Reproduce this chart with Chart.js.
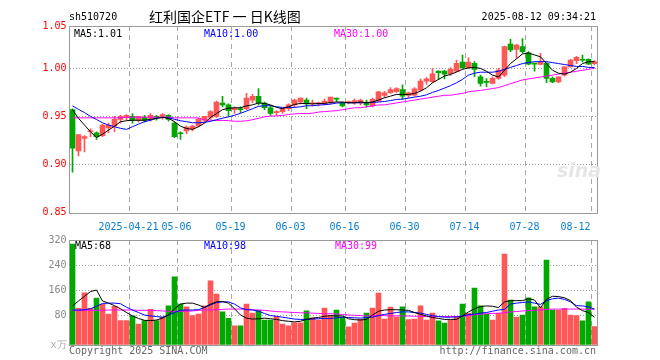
<!DOCTYPE html>
<html><head><meta charset="utf-8">
<script src="https://cdn.jsdelivr.net/npm/chart.js@4.4.1/dist/chart.umd.min.js"></script>
<style>
html,body{margin:0;padding:0;background:#fff;}
#wrap{position:relative;width:660px;height:360px;overflow:hidden;background:#fff;}
canvas{position:absolute;left:0;}
.t{position:absolute;font-family:"DejaVu Sans Mono",monospace;font-size:10px;line-height:12px;white-space:pre;z-index:2;}
</style></head><body>
<div id="wrap">
<canvas id="k" width="660" height="240" style="top:0;width:660px;height:240px"></canvas>
<canvas id="v" width="660" height="130" style="top:230px;width:660px;height:130px"></canvas>
<div class="t" style="left:69px;top:11px;color:#000">sh510720</div>
<div class="t" style="left:149px;top:7px;font-family:'Noto Sans CJK SC';font-size:14px;line-height:18px;color:#000">红利国企ETF 一 日K线图</div>
<div class="t" style="right:64px;top:11px;color:#000">2025-08-12 09:34:21</div>
<div class="t" style="left:74px;top:28px;color:#000">MA5:1.01</div>
<div class="t" style="left:204px;top:28px;color:#0000ff">MA10:1.00</div>
<div class="t" style="left:334px;top:28px;color:#ff00ff">MA30:1.00</div>
<div class="t" style="left:75px;top:240px;color:#000">MA5:68</div>
<div class="t" style="left:204px;top:240px;color:#0000ff">MA10:98</div>
<div class="t" style="left:335px;top:240px;color:#ff00ff">MA30:99</div>
<div class="t" style="left:557px;top:159px;font-family:'DejaVu Sans';font-style:italic;font-weight:bold;font-size:19px;line-height:22px;color:#e6e6e6">sina</div>
<div class="t" style="left:69px;top:345px;color:#666">Copyright 2025 SINA.COM</div>
<div class="t" style="right:64px;top:345px;color:#666">http://finance.sina.com.cn</div>
</div>
<script>
const dates = ['04-07','04-08','04-09','04-10','04-11','04-14','04-15','04-16','04-17','04-18','04-21','04-22','04-23','04-24','04-25','04-28','04-29','04-30',
'05-06','05-07','05-08','05-09','05-12','05-13','05-14','05-15','05-16','05-19','05-20','05-21','05-22','05-23','05-26','05-27','05-28','05-29','05-30',
'06-03','06-04','06-05','06-06','06-09','06-10','06-11','06-12','06-13','06-16','06-17','06-18','06-19','06-20','06-23','06-24','06-25','06-26','06-27','06-30',
'07-01','07-02','07-03','07-04','07-07','07-08','07-09','07-10','07-11','07-14','07-15','07-16','07-17','07-18','07-21','07-22','07-23','07-24','07-25','07-28','07-29','07-30','07-31',
'08-01','08-04','08-05','08-06','08-07','08-08','08-11','08-12'];
const tickDates = ['04-21','05-06','05-19','06-03','06-16','06-30','07-14','07-28','08-12'];
const tickLabels = ['2025-04-21','05-06','05-19','06-03','06-16','06-30','07-14','07-28','08-12'];

const open = [.957,.914,.927,.934,.933,.930,.938,.940,.947,.949,.950,.946,.949,.948,.950,.950,.951,.943,.933,.935,
.937,.940,.946,.949,.950,.964,.962,.957,.958,.958,.967,.971,.964,.959,.954,.955,.958,.962,.965,.967,
.963,.963,.9635,.965,.969,.964,.9645,.964,.964,.965,.961,.966,.9718,.9746,.9757,.978,.9718,.972,.9774,.9868,
.9861,.9972,.9972,.9944,.9972,1.0066,1.0007,1.0052,.9913,.9865,.9844,.9896,.993,1.0254,1.0198,1.0226,1.0163,1.0052,1.0042,1.0052,
.9896,.986,.993,1.0017,1.008,1.0095,1.0094,1.005];
const high = [.958,.931,.930,.937,.934,.942,.943,.950,.951,.952,.953,.950,.951,.953,.951,.953,.952,.944,.934,.940,
.941,.948,.950,.956,.966,.971,.963,.960,.960,.974,.973,.979,.965,.961,.956,.959,.963,.968,.969,.969,
.967,.965,.968,.970,.969,.965,.966,.968,.968,.967,.969,.976,.976,.980,.980,.983,.9753,.980,.989,.9903,
.9997,.9975,.998,1.0007,1.0087,1.0139,1.0111,1.007,.993,.9895,.9913,1.000,1.0233,1.0302,1.025,1.031,1.0174,1.0055,1.0156,1.006,
.9913,.9913,1.0017,1.0094,1.0125,1.0139,1.010,1.008];
const low = [.892,.909,.913,.929,.926,.929,.933,.934,.943,.946,.943,.944,.944,.945,.946,.947,.945,.928,.926,.932,
.935,.939,.944,.947,.949,.960,.950,.953,.954,.957,.964,.962,.957,.951,.951,.953,.956,.960,.963,.958,
.961,.961,.962,.963,.965,.960,.963,.9625,.962,.9597,.960,.965,.9694,.974,.975,.968,.9694,.971,.9763,.9833,
.985,.9885,.989,.9927,.9962,1.000,1.000,.9913,.9816,.981,.9837,.9885,.9913,1.0174,1.0104,1.0157,1.0035,.997,1.0035,.985,
.985,.985,.992,1.001,1.005,1.0066,1.004,1.0035];
const close = [.917,.931,.929,.935,.929,.941,.941,.947,.950,.951,.946,.950,.946,.951,.949,.952,.947,.929,.932,.939,
.940,.947,.950,.955,.965,.962,.956,.959,.957,.969,.971,.964,.959,.953,.955,.958,.962,.967,.969,.963,
.964,.964,.966,.970,.968,.961,.965,.9665,.967,.962,.9677,.9757,.9746,.978,.979,.971,.9746,.9788,.9868,.9892,
.9944,.9955,.994,.999,1.0052,1.0007,1.0066,.999,.9844,.9855,.9896,.9983,1.0226,1.0191,1.0243,1.0174,1.0045,1.0045,1.007,.9896,
.986,.9913,1.0017,1.0087,1.0115,1.0085,1.0045,1.007];

const ma5 = [.957,.948,.941,.934,.928,.9315,.9357,.9398,.9445,.9455,.946,.946,.946,.947,.948,.949,.948,.9445,.9398,.9375,
.9365,.9393,.943,.949,.953,.957,.9585,.959,.959,.961,.962,.964,.9635,.962,.9595,.958,.960,.9625,.9635,.9635,
.963,.9635,.9635,.9645,.965,.965,.9642,.9642,.965,.9642,.965,.967,.9694,.9711,.9729,.9729,.9729,.9739,.9763,.9798,
.985,.9885,.992,.9937,.9962,.999,1.0005,1.001,1.000,.997,.993,.991,.998,1.005,1.010,1.015,1.016,1.014,1.012,1.005,
.998,.995,.994,.996,1.000,1.005,1.007,1.007];
const ma10 = [.961,.9573,.954,.950,.9468,.9434,.941,.9393,.9376,.9365,.9393,.942,.9445,.946,.948,.949,.9486,.947,.9455,.9445,
.9434,.9434,.9438,.9449,.9465,.9482,.9495,.9512,.9532,.9556,.958,.9605,.9611,.9611,.960,.9594,.9594,.9594,.960,.9611,
.9611,.9618,.9622,.9628,.9639,.9642,.9642,.9642,.9642,.9642,.9645,.965,.9655,.9665,.9677,.968,.969,.9701,.971,.9725,
.975,.977,.9795,.982,.985,.9885,.993,.995,.996,.996,.996,.997,.999,1.001,1.003,1.005,1.006,1.007,1.007,1.007,
1.006,1.005,1.004,1.003,1.002,1.002,1.001,1.001];
const ma30 = [.9485,.9485,.9485,.9485,.9485,.9485,.9485,.9485,.9485,.9492,.9492,.9492,.9492,.9492,.9492,.9492,.9492,.9485,.9485,.9485,
.9485,.9485,.9462,.946,.9458,.9458,.9456,.945,.945,.9454,.9466,.948,.9495,.9503,.9505,.951,.952,.9527,.953,.953,
.9533,.9545,.955,.9555,.956,.957,.958,.959,.959,.960,.961,.962,.962,.963,.964,.965,.966,.967,.968,.969,
.970,.971,.972,.972,.973,.974,.9756,.9765,.977,.978,.979,.980,.982,.984,.986,.988,.989,.990,.991,.992,
.993,.994,.995,.996,.997,.998,.999,1.000];

const volume = [307,101,151,101,134,114,83,108,62,62,77,51,62,98,62,73,109,202,115,106,
78,83,109,189,147,90,69,45,45,115,86,95,64,64,75,51,45,55,55,93,
71,64,102,77,96,73,42,54,66,86,102,150,67,105,73,106,65,67,109,64,
86,61,54,64,73,115,85,166,109,83,64,85,275,128,73,80,135,106,106,256,
96,95,101,80,78,61,122,43];
const volMa5 = [109,125,140,155,160,125,118,110,100,88,77,69,63,62,64,70,80,100,115,118,
118,112,104,115,122,123,118,100,80,70,67,68,70,68,66,62,60,58,60,66,
70,72,76,78,77,77,68,65,64,66,80,92,96,97,97,96,95,88,82,77,
72,69,66,66,66,77,90,100,107,109,108,104,122,126,126,126,132,128,103,130,
140,139,135,126,105,94,88,73];
const volMa10 = [96,96,97,100,108,117,118,118,116,105,96,88,80,77,75,73,80,88,95,96,
96,97,104,112,120,122,122,115,103,97,96,92,85,78,76,73,70,67,66,66,
67,68,69,69,71,73,72,71,70,72,73,78,82,85,88,90,90,88,86,82,
78,75,73,73,74,77,81,83,86,88,92,96,98,115,118,120,122,118,114,126,
132,134,130,122,110,109,106,99];
const volMa30 = [94,94,95,95,95,95,96,96,96,96,96,95,95,95,94,93,92,92,92,92,
93,95,96,96,97,98,99,99,99,98,97,96,95,93,91,90,89,88,87,87,
86,85,84,84,83,82,80,79,78,77,78,79,78,77,77,77,77,76,76,75,
75,75,75,75,75,76,78,81,83,84,85,86,87,90,91,93,94,95,96,98,
99,99,99,99,99,99,98,99];

const priceTicks = [0.85, 0.90, 0.95, 1.00, 1.0441];
const priceTickLabels = ['0.85','0.90','0.95','1.00','1.05'];
const volTicks = [-16, 80, 160, 240, 320];
const volTickLabels = ['x万','80','160','240','320'];

const RED = '#ff5757', GREEN = '#00a800';
const upColor = dates.map((d,i) => close[i] >= open[i] ? RED : GREEN);

Chart.defaults.font.family = "'DejaVu Sans Mono', monospace";
Chart.defaults.font.size = 10;

const frame = {
  id: 'frame',
  afterDatasetsDraw(chart) {
    const {ctx, chartArea: a} = chart;
    ctx.save();
    ctx.strokeStyle = '#9a9a9a';
    ctx.lineWidth = 1;
    ctx.setLineDash([]);
    ctx.strokeRect(Math.floor(a.left) + 0.5, Math.floor(a.top) + 0.5, Math.round(a.right - a.left), Math.round(a.bottom - a.top));
    ctx.restore();
  }
};

function xGridColor(c) {
  return (c.index < dates.length && tickDates.includes(dates[c.index])) ? '#a8a8a8' : 'rgba(0,0,0,0)';
}
function tickText(value, index) {
  const k = tickDates.indexOf(dates[index]);
  if (k < 0) return '';
  return k === tickLabels.length - 1 ? tickLabels[k] + '     ' : tickLabels[k];
}
const lineDs = (data, color) => ({type: 'line', data, borderColor: color, borderWidth: 1, pointRadius: 0, tension: 0, fill: false, order: 0});

new Chart(document.getElementById('k'), {
  type: 'bar',
  data: {
    labels: dates,
    datasets: [
      lineDs(ma5, '#000000'),
      lineDs(ma10, '#0000ff'),
      lineDs(ma30, '#ff00ff'),
      {data: dates.map((d,i) => [open[i], close[i]]), backgroundColor: upColor, barThickness: 5, grouped: false, minBarLength: 1, borderWidth: 0, order: 1},
      {data: dates.map((d,i) => [low[i], high[i]]), backgroundColor: upColor, barThickness: 1, grouped: false, minBarLength: 1, borderWidth: 0, order: 2}
    ]
  },
  options: {
    responsive: false, animation: false, devicePixelRatio: 1,
    layout: {padding: {left: 0, top: 26, right: 62.5, bottom: 0}},
    plugins: {legend: {display: false}, tooltip: {enabled: false}},
    scales: {
      x: {
        type: 'category', offset: true,
        grid: {offset: true, color: xGridColor, drawTicks: false, lineWidth: 1},
        border: {display: false, dash: [5, 4]},
        ticks: {autoSkip: false, maxRotation: 0, minRotation: 0, padding: 9, labelOffset: -4, color: '#0a7fd2', callback: tickText},
        afterFit: s => { s.height = 27.5; }
      },
      y: {
        min: 0.85, max: 1.0441,
        afterBuildTicks: s => { s.ticks = priceTicks.map(v => ({value: v})); },
        grid: {color: c => (c.index > 0 && c.index < priceTicks.length - 1) ? '#a0a0a0' : 'rgba(0,0,0,0)', drawTicks: false},
        border: {display: false, dash: [1, 2]},
        ticks: {padding: 3, color: '#ff0000', callback: (v, i) => priceTickLabels[i]},
        afterFit: s => { s.width = 69.5; }
      }
    }
  },
  plugins: [frame]
});

new Chart(document.getElementById('v'), {
  type: 'bar',
  data: {
    labels: dates,
    datasets: [
      lineDs(volMa5, '#000000'),
      lineDs(volMa10, '#0000ff'),
      lineDs(volMa30, '#ff00ff'),
      {data: volume, base: -16, backgroundColor: upColor, barThickness: 5, borderWidth: 0, order: 1}
    ]
  },
  options: {
    responsive: false, animation: false, devicePixelRatio: 1,
    layout: {padding: {left: 0, top: 10, right: 62.5, bottom: 15}},
    plugins: {legend: {display: false}, tooltip: {enabled: false}},
    scales: {
      x: {
        type: 'category', offset: true,
        grid: {offset: true, color: xGridColor, drawTicks: false},
        border: {display: false, dash: [5, 4]},
        ticks: {display: false, autoSkip: false, maxRotation: 0},
        afterFit: s => { s.height = 0; }
      },
      y: {
        min: -16, max: 320,
        afterBuildTicks: s => { s.ticks = volTicks.map(v => ({value: v})); },
        grid: {color: c => (c.index > 0 && c.index < volTicks.length - 1) ? '#a0a0a0' : 'rgba(0,0,0,0)', drawTicks: false},
        border: {display: false, dash: [1, 2]},
        ticks: {padding: 3, color: c => c.index === 0 ? '#aaaaaa' : '#888888', callback: (v, i) => volTickLabels[i]},
        afterFit: s => { s.width = 69.5; }
      }
    }
  },
  plugins: [frame]
});
</script>
</body></html>
